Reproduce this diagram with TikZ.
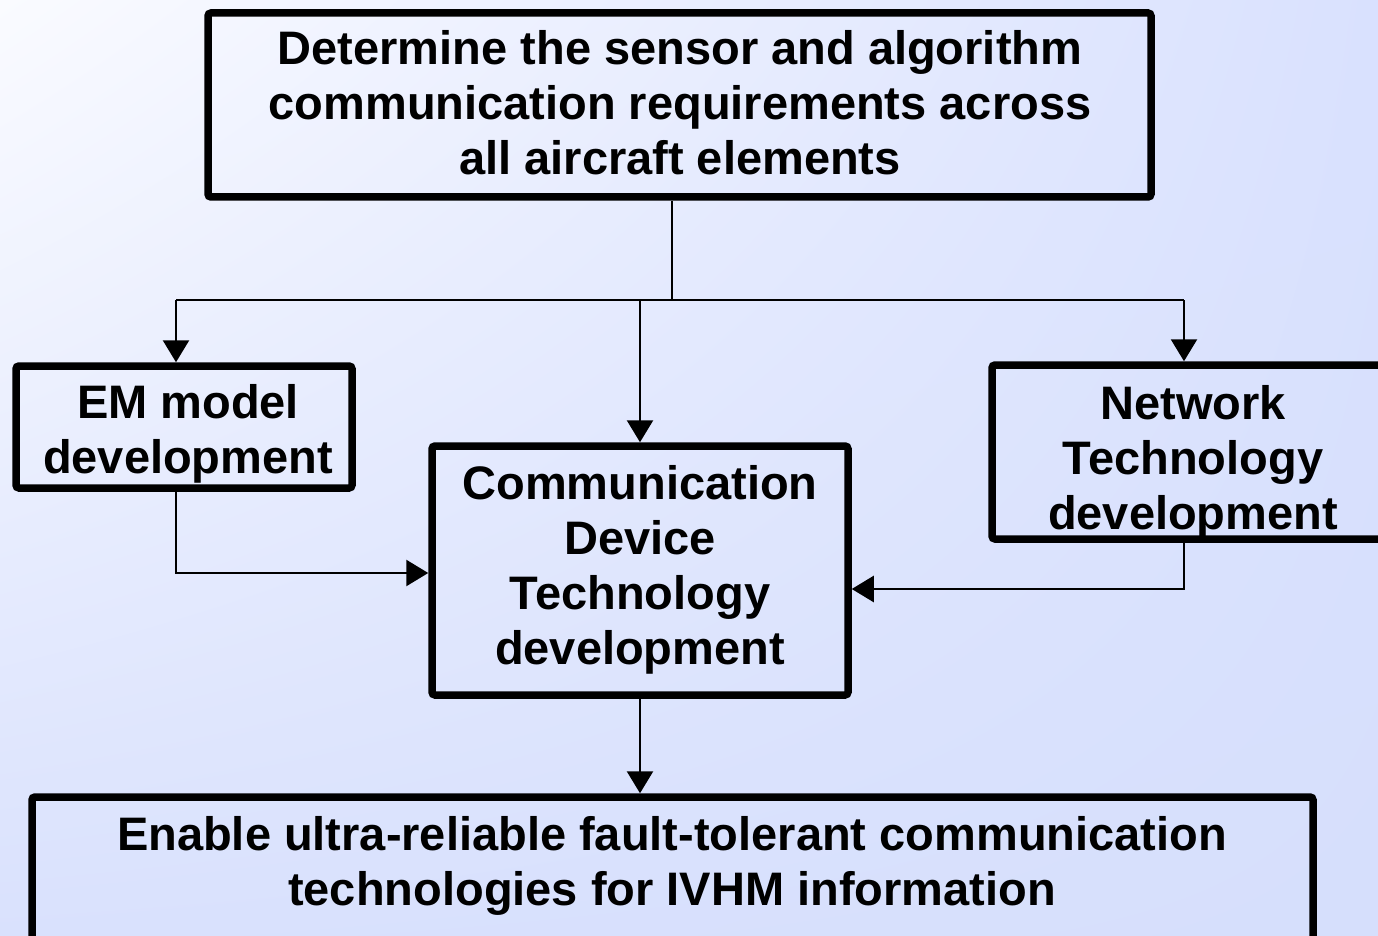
\documentclass[tikz,border=0pt]{standalone}
\usepackage{fontspec}
\setmainfont{Liberation Sans}
\usetikzlibrary{arrows.meta,shadings}
\definecolor{bgUL}{HTML}{FAFBFF}
\definecolor{bgUR}{HTML}{D9E1FE}
\definecolor{bgLL}{HTML}{D9E1FD}
\definecolor{bgLR}{HTML}{D6DFFC}
\tikzset{
  box/.style={draw=black, line width=7.5pt, rounded corners=3pt, inner sep=0pt},
  txt/.style={font=\bfseries\fontsize{47}{55}\selectfont, align=center, anchor=base, inner sep=0pt},
  conn/.style={draw=black, line width=2.5pt},
  arr/.style={conn, -{Triangle[width=26pt,length=22pt]}},
}
\begin{document}
\begin{tikzpicture}[x=1pt,y=-1pt]
\useasboundingbox (0,0) rectangle (1378,936);
\clip (0,0) rectangle (1378,936);
\shade[upper left=bgUL, upper right=bgUR, lower left=bgLL, lower right=bgLR] (0,0) rectangle (1378,936);

% boxes
\node[box, minimum width=943pt, minimum height=184pt] (top) at (679.5,105) {};
\node[box, minimum width=336pt, minimum height=122pt] (em) at (184,427) {};
\node[box, minimum width=416pt, minimum height=249pt] (comm) at (640,570.5) {};
\node[box, minimum width=393pt, minimum height=174pt] (net) at (1188.5,452) {};
\node[box, minimum width=1281pt, minimum height=170pt] (bot) at (672.5,882) {};

% texts (anchored at the baseline of the last line)
\node[txt] (toptxt) at (680,175) {Determine the sensor and algorithm\\communication requirements across\\all aircraft elements};
\node[txt] (emtxt) at (188,473) {EM model\\development};
\node[txt] (commtxt) at (640,664) {Communication\\Device\\Technology\\development};
\node[txt] (nettxt) at (1193,529) {Network\\Technology\\development};
\node[txt] (bottxt) at (672,905) {Enable ultra-reliable fault-tolerant communication\\technologies for IVHM information};

% connectors
\coordinate (tj) at (672,300);
\coordinate (emdrop) at (176,300);
\coordinate (netdrop) at (1184,300);
\coordinate (commdrop) at (640,300);
\coordinate (emout) at (176,573);
\coordinate (netout) at (1184,589);

\draw[conn] (tj |- top.south) -- (tj);
\draw[conn] (emdrop) -- (netdrop);
\draw[arr] (emdrop) -- (emdrop |- em.north);
\draw[arr] (commdrop) -- (commdrop |- comm.north);
\draw[arr] (netdrop) -- (netdrop |- net.north);
\draw[arr] (emdrop |- em.south) -- (emout) -- (emout -| comm.west);
\draw[arr] (netdrop |- net.south) -- (netout) -- (netout -| comm.east);
\draw[arr] (comm.south) -- (comm.south |- bot.north);
\end{tikzpicture}
\end{document}
